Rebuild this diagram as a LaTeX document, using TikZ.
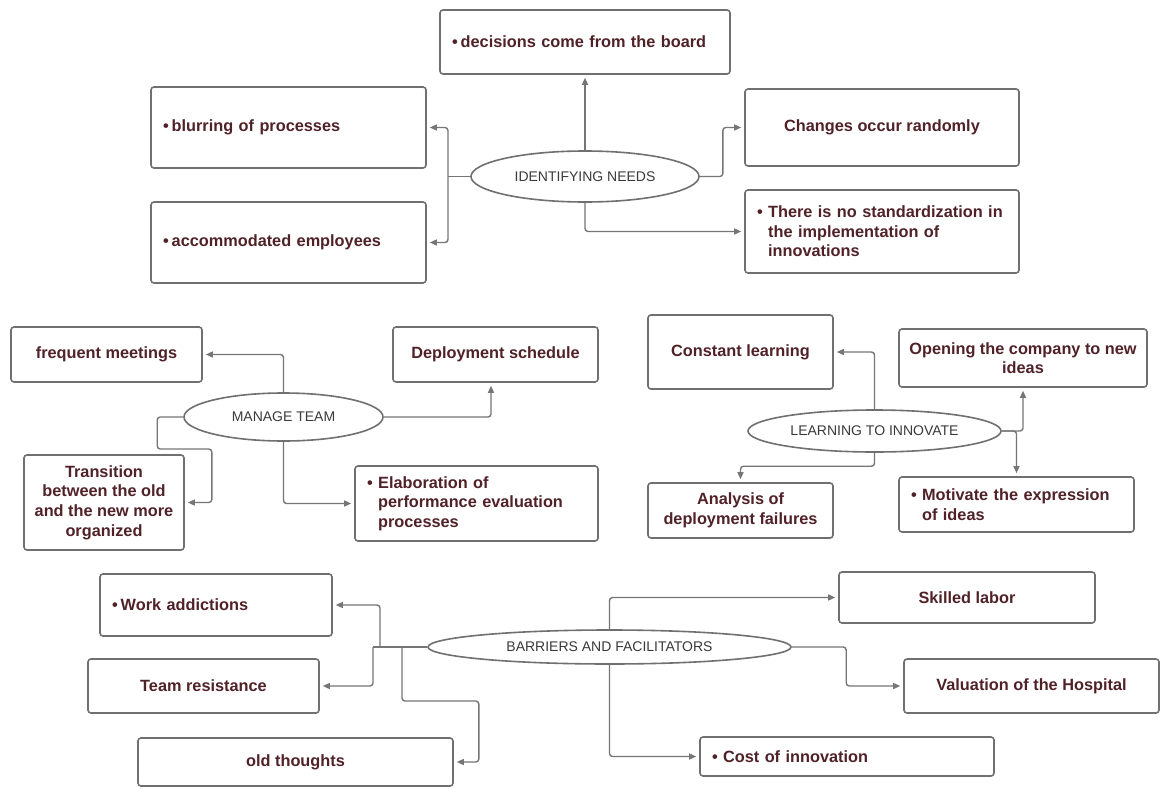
\documentclass[tikz,border=0pt]{standalone}
\usepackage{fontspec}
\setmainfont{Liberation Sans}
\usetikzlibrary{arrows.meta,shapes.geometric}

\definecolor{boxline}{RGB}{112,112,112}
\definecolor{wireline}{RGB}{118,118,118}
\definecolor{itemtext}{RGB}{80,34,40}
\definecolor{hubtext}{RGB}{58,58,58}

\begin{document}
\begin{tikzpicture}[x=1pt,y=-1pt,
  box/.style={draw=boxline, line width=1.6pt, rounded corners=3pt, fill=white,
    font=\fontsize{16.3}{19.6}\selectfont\bfseries, text=itemtext},
  lbox/.style={box, align=left, inner xsep=12pt, inner ysep=2pt},
  cbox/.style={box, align=center, inner sep=2pt},
  hub/.style={ellipse, draw=boxline, line width=1.6pt, fill=white, inner sep=0pt,
    text=hubtext, font=\fontsize{14}{16}\selectfont},
  wire/.style={draw=wireline, line width=1.4pt, rounded corners=3pt},
  conn/.style={wire, -{Triangle[length=7pt,width=6pt]}, shorten >=3pt}]

\useasboundingbox (0,0) rectangle (1161,789);
\fill[white] (0,0) rectangle (1161,789);

% ---------- Identifying needs ----------
\node[hub, minimum width=228pt, minimum height=51pt] (idn) at (585,176.5) {IDENTIFYING NEEDS};
\node[lbox, text width=266pt, minimum height=64pt] (dec) at (585,42) {•\hspace{3pt}decisions come from the board};
\node[lbox, text width=251pt, minimum height=81pt] (blur) at (288.5,127.5) {•\hspace{3pt}blurring of processes};
\node[lbox, text width=251pt, minimum height=81pt] (acc) at (288.5,242.5) {•\hspace{3pt}accommodated employees};
\node[cbox, minimum width=274pt, minimum height=77pt] (chg) at (882,127.5) {Changes occur randomly};
\node[lbox, text width=250pt, minimum height=83pt] (std) at (882,231.5)
  {• There is no standardization in\\\hphantom{• }the implementation of\\\hphantom{• }innovations};

\coordinate (idnL) at (448,176.5);
\draw[conn] (idn.north) -- (dec.south);
\draw[wire] (idn.west) -- (idnL);
\draw[conn] (idnL) |- (blur.east);
\draw[conn] (idnL) |- (acc.east);
\draw[conn] (idn.east) -- ++(23,0) |- (chg.west);
\draw[conn] (idn.south) |- (std.west);

% ---------- Manage team ----------
\node[hub, minimum width=199pt, minimum height=48pt] (mt) at (283.5,417) {MANAGE TEAM};
\node[cbox, minimum width=191pt, minimum height=55pt] (freq) at (106.5,354.5) {frequent meetings};
\node[cbox, minimum width=205pt, minimum height=55pt] (dep) at (495.5,354.5) {Deployment schedule};
\node[cbox, minimum width=160pt, minimum height=95pt] (trans) at (104,502.5)
  {Transition\\between the old\\and the new more\\organized};
\node[lbox, text width=219pt, minimum height=75pt] (elab) at (476.5,503.5)
  {• Elaboration of\\\hphantom{• }performance evaluation\\\hphantom{• }processes};

\draw[conn] (mt.north) |- (freq.east);
\draw[conn] (mt.east) -| ([xshift=-4.5pt]dep.south);
\draw[conn] (mt.west) -| ++(-26,32) -| ([xshift=27pt]trans.east) -- (trans.east);
\draw[conn] (mt.south) |- (elab.west);

% ---------- Learning to innovate ----------
\node[hub, minimum width=253pt, minimum height=42pt] (lti) at (874.5,431) {LEARNING TO INNOVATE};
\node[cbox, minimum width=185pt, minimum height=74pt] (cl) at (740.5,352) {Constant learning};
\node[cbox, minimum width=248pt, minimum height=58pt] (open) at (1023,358) {Opening the company to new\\ideas};
\node[lbox, text width=211pt, minimum height=55pt] (mot) at (1016.5,504.5)
  {• Motivate the expression\\\hphantom{• }of ideas};
\node[cbox, minimum width=185pt, minimum height=55pt] (ana) at (740.5,510.5) {Analysis of\\deployment failures};

\draw[conn] (lti.north) |- (cl.east);
\draw[conn] (lti.east) -| (open.south);
\draw[conn] (lti.east) -| (mot.north);
\draw[conn] (lti.south) |- ([yshift=16pt]ana.north) -- (ana.north);

% ---------- Barriers and facilitators ----------
\node[hub, minimum width=363pt, minimum height=34pt] (bf) at (609.5,647) {BARRIERS AND FACILITATORS};
\node[lbox, text width=208pt, minimum height=62pt] (work) at (216,605) {•\hspace{3pt}Work addictions};
\node[cbox, minimum width=231pt, minimum height=54pt] (team) at (203.5,686) {Team resistance};
\node[cbox, minimum width=315pt, minimum height=48pt] (old) at (295.5,762) {old thoughts};
\node[cbox, minimum width=256pt, minimum height=51pt] (skill) at (967,597.5) {Skilled labor};
\node[cbox, minimum width=255pt, minimum height=54pt] (val) at (1031.5,686) {Valuation of the Hospital};
\node[lbox, text width=270pt, minimum height=39pt] (cost) at (847,756.5) {• Cost of innovation};

\coordinate (bfA) at (380,647);
\coordinate (bfB) at (373,647);
\coordinate (bfO) at (402,647);
\draw[wire] (bf.west) -- (bfB);
\draw[conn] (bfA) |- (work.east);
\draw[conn] (bfB) |- (team.east);
\draw[conn] (bfO) -- ++(0,54) -| ([xshift=25pt]old.east) -- (old.east);
\draw[conn] (bf.north) |- (skill.west);
\draw[conn] (bf.east) -| ([xshift=-57pt]val.west) -- (val.west);
\draw[conn] (bf.south) |- (cost.west);

\end{tikzpicture}
\end{document}
